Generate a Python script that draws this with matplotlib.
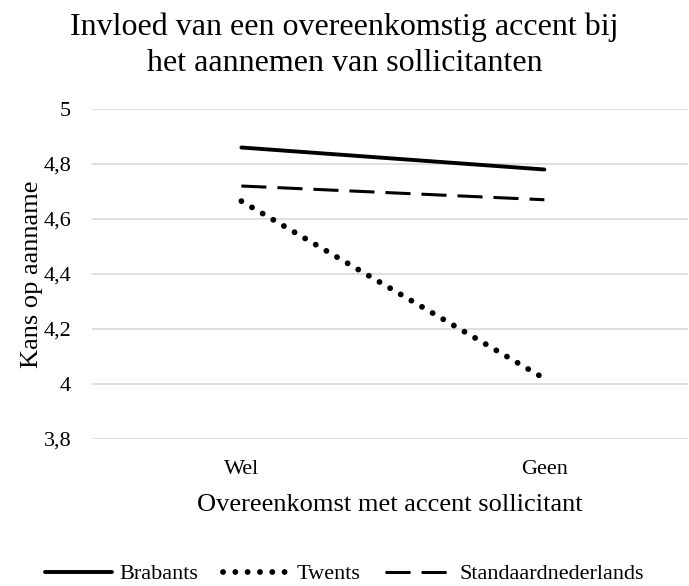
import matplotlib
matplotlib.use("Agg")
import matplotlib.pyplot as plt

categories = ["Wel", "Geen"]
brabants = [4.86, 4.78]
twents = [4.665, 4.02]
standaard = [4.72, 4.67]
yticks = [3.8, 4.0, 4.2, 4.4, 4.6, 4.8, 5.0]
ytick_labels = ["3,8", "4", "4,2", "4,4", "4,6", "4,8", "5"]
title_lines = ["Invloed van een overeenkomstig accent bij",
               "het aannemen van sollicitanten"]

plt.rcParams['font.family'] = ['Liberation Serif', 'DejaVu Serif']

fig = plt.figure(figsize=(6.89, 5.86), dpi=100)
ax = fig.add_axes([92/689, 1-439/586, (688-92)/689, (439-109)/586])

x = list(range(len(categories)))
ax.plot(x, brabants, color='black', lw=2.8, solid_capstyle='round', label='Brabants')
ax.plot(x, twents, color='black', lw=4.2, linestyle=(0, (0.01, 2.1)),
        dash_capstyle='round', label='Twents')
ax.plot(x, standaard, color='black', lw=2.2, linestyle=(0, (8.2, 3.6)),
        dash_capstyle='butt', label='Standaardnederlands')

ax.set_xlim(-0.493, 1.474)
ax.set_ylim(3.8, 5.0)
ax.set_yticks(yticks)
ax.set_yticklabels(ytick_labels)
ax.set_xticks(x)
ax.set_xticklabels(categories)
ax.tick_params(axis='both', length=0, labelsize=16)
ax.tick_params(axis='y', pad=15)
ax.tick_params(axis='x', pad=15)
ax.grid(axis='y', color='#d9d9d9', lw=1.2)
ax.set_axisbelow(True)
for s in ax.spines.values():
    s.set_visible(False)

ax.set_ylabel("Kans op aanname", fontsize=19, labelpad=0.5)
ax.set_xlabel("Overeenkomst met accent sollicitant", fontsize=19, labelpad=11)

fig.text(0.5, 1-35/586, title_lines[0], ha='center', va='baseline', fontsize=23)
fig.text(0.5, 1-71/586, title_lines[1], ha='center', va='baseline', fontsize=23)

fig.legend(loc='center', bbox_to_anchor=(0.5, 1-574/586), ncol=3, frameon=False,
           fontsize=16, handlelength=3.0, columnspacing=1.1, handletextpad=0.33,
           borderaxespad=0, borderpad=0)

fig.savefig("out.png", dpi=100, facecolor='white')
